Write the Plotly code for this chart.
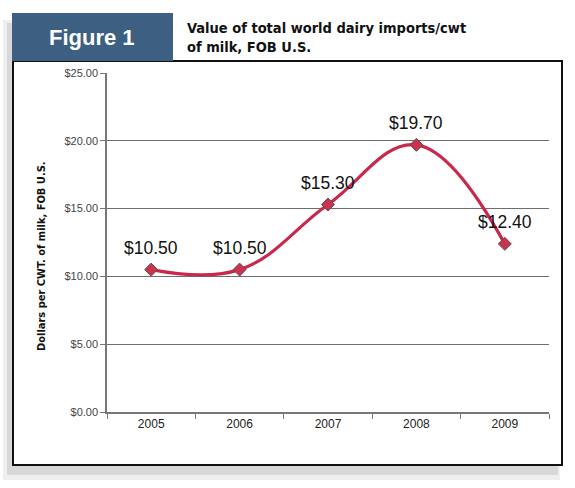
import plotly.graph_objects as go

years = ["2005", "2006", "2007", "2008", "2009"]
values = [10.50, 10.50, 15.30, 19.70, 12.40]
labels = ["$10.50", "$10.50", "$15.30", "$19.70", "$12.40"]
ytick_vals = [0, 5, 10, 15, 20, 25]
ytick_text = ["$0.00", "$5.00", "$10.00", "$15.00", "$20.00", "$25.00"]

W, H = 575, 488
ML, MR, MT, MB = 107, 26, 73, 76
PW, PH = W - ML - MR, H - MT - MB
COND = "DejaVu Sans Condensed, Liberation Sans Narrow, Arial Narrow, Arial"

def px(x):
    return (x - ML) / PW

def py(y):
    return (H - MB - y) / PH

fig = go.Figure()
fig.add_trace(go.Scatter(
    x=years, y=values, mode="lines+markers",
    line=dict(shape="spline", smoothing=1.15, color="#C8284C", width=3.2),
    marker=dict(symbol="diamond", size=10, color="#C8344F",
                line=dict(color="#6a4a4a", width=1)),
    hoverinfo="skip", showlegend=False,
))

annotations = []
for i, (v, t) in enumerate(zip(values, labels)):
    annotations.append(dict(x=i, y=v, xref="x", yref="y", text=t, showarrow=False, yshift=22,
                            font=dict(family="Liberation Sans, Arial", size=17.5, color="#111")))

annotations.append(dict(xref="paper", yref="paper", x=px(92), y=py(38), text="<b>Figure 1</b>",
                        showarrow=False, xanchor="center", yanchor="middle",
                        font=dict(family="Liberation Sans, Arial", size=22, color="white")))
annotations.append(dict(xref="paper", yref="paper", x=px(185), y=py(37),
                        text="<b>Value of total world dairy imports/cwt<br>of milk, FOB U.S.</b>",
                        showarrow=False, xanchor="left", yanchor="middle", align="left",
                        font=dict(family=COND, size=14.5, color="#111")))
annotations.append(dict(xref="paper", yref="paper", x=px(42), y=py(256),
                        text="<b>Dollars per CWT. of milk, FOB U.S.</b>", textangle=-90,
                        showarrow=False, xanchor="center", yanchor="middle",
                        font=dict(family=COND, size=11, color="#111")))

shapes = [
    # shadow
    dict(type="rect", xref="paper", yref="paper", x0=px(3), x1=px(560), y0=py(480), y1=py(20),
         fillcolor="#efefef", line=dict(width=0), layer="below"),
    dict(type="rect", xref="paper", yref="paper", x0=px(7), x1=px(558), y0=py(475), y1=py(23),
         fillcolor="#d8d8d8", line=dict(width=0), layer="below"),
    # white frame
    dict(type="rect", xref="paper", yref="paper", x0=px(13), x1=px(562), y0=py(465), y1=py(61),
         fillcolor="white", line=dict(color="#111", width=2), layer="below"),
    # blue box
    dict(type="rect", xref="paper", yref="paper", x0=px(12), x1=px(173), y0=py(61), y1=py(13),
         fillcolor="#3C5F82", line=dict(width=0), layer="below"),
    # title white background
    dict(type="rect", xref="paper", yref="paper", x0=px(173), x1=px(575), y0=py(60), y1=py(0),
         fillcolor="white", line=dict(width=0), layer="below"),
]

fig.update_layout(
    width=W, height=H,
    margin=dict(l=ML, r=MR, t=MT, b=MB, pad=0),
    paper_bgcolor="white", plot_bgcolor="rgba(0,0,0,0)",
    annotations=annotations, shapes=shapes,
    xaxis=dict(type="category", tickson="boundaries", ticks="outside", ticklen=5,
               tickcolor="#777", tickwidth=1, showgrid=False, showline=True,
               linecolor="#777", linewidth=1.5, zeroline=False,
               tickfont=dict(family="Liberation Sans, Arial", size=12, color="#222"),
               range=[-0.5, 4.5], fixedrange=True),
    yaxis=dict(range=[0, 25], tickvals=ytick_vals, ticktext=ytick_text,
               ticks="outside", ticklen=5, tickcolor="#777", tickwidth=1,
               showgrid=True, gridcolor="#6e6e6e", gridwidth=1.3,
               showline=True, linecolor="#777", linewidth=1.5, zeroline=False,
               tickfont=dict(family="Liberation Sans, Arial", size=11, color="#444"),
               fixedrange=True),
)

fig.write_html("out.html")
